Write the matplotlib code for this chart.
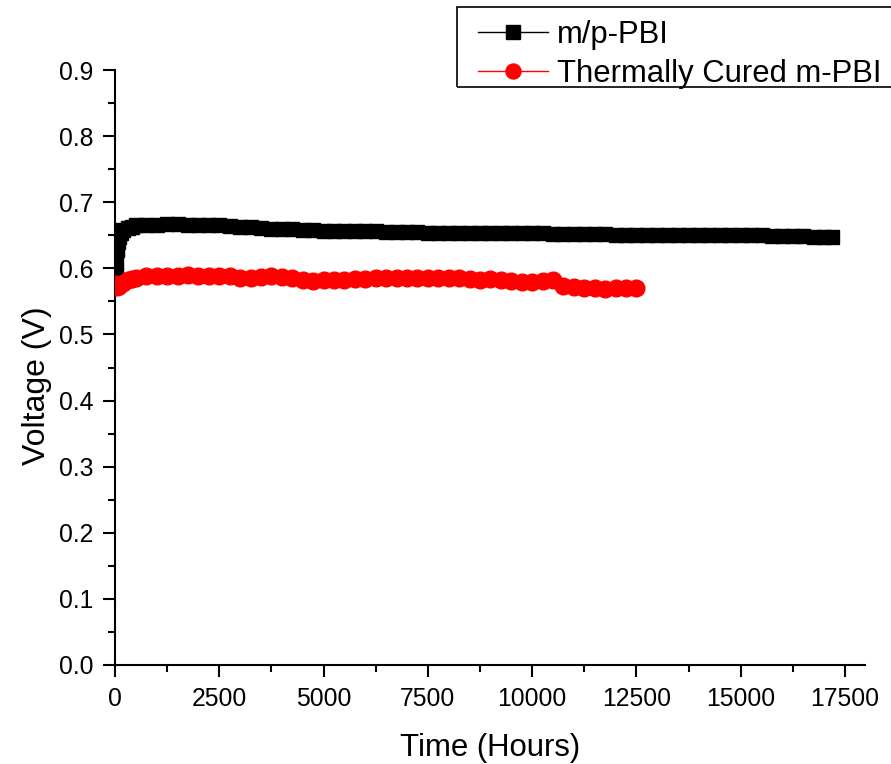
import matplotlib
matplotlib.use("Agg")
import matplotlib.pyplot as plt
from matplotlib.ticker import MultipleLocator
from matplotlib.patches import Rectangle

plt.rcParams['font.family'] = ['Liberation Sans', 'DejaVu Sans']

# ---------------- data ----------------
t_black = [0, 15, 30, 50, 75, 100, 150, 200, 300, 400, 500,
           750, 1000, 1250, 1500, 1750, 2000, 2250, 2500, 2750, 3000,
           3250, 3500, 3750, 4000, 4250, 4500, 4750, 5000, 5250, 5500,
           5750, 6000, 6250, 6500, 6750, 7000, 7250, 7500, 7750, 8000,
           8250, 8500, 8750, 9000, 9250, 9500, 9750, 10000, 10250, 10500,
           10750, 11000, 11250, 11500, 11750, 12000, 12250, 12500, 12750, 13000,
           13250, 13500, 13750, 14000, 14250, 14500, 14750, 15000, 15250, 15500,
           15750, 16000, 16250, 16500, 16750, 17000, 17200]
v_black = [0.572, 0.590, 0.610, 0.628, 0.640, 0.647, 0.654, 0.658, 0.661, 0.663, 0.665,
           0.666, 0.666, 0.667, 0.667, 0.666, 0.666, 0.665, 0.665, 0.664, 0.663,
           0.662, 0.661, 0.660, 0.659, 0.659, 0.658, 0.658, 0.657, 0.657, 0.657,
           0.656, 0.656, 0.656, 0.655, 0.655, 0.655, 0.655, 0.654, 0.654, 0.654,
           0.654, 0.654, 0.653, 0.653, 0.653, 0.653, 0.653, 0.653, 0.653, 0.652,
           0.652, 0.652, 0.652, 0.652, 0.652, 0.651, 0.651, 0.651, 0.651, 0.651,
           0.651, 0.650, 0.650, 0.650, 0.650, 0.650, 0.650, 0.650, 0.650, 0.651,
           0.649, 0.649, 0.649, 0.649, 0.648, 0.648, 0.648]

t_red = [0, 50, 100, 200, 300, 400, 500, 750, 1000, 1250, 1500, 1750, 2000,
         2250, 2500, 2750, 3000, 3250, 3500, 3750, 4000, 4250, 4500, 4750, 5000,
         5250, 5500, 5750, 6000, 6250, 6500, 6750, 7000, 7250, 7500, 7750, 8000,
         8250, 8500, 8750, 9000, 9250, 9500, 9750, 10000, 10250, 10500, 10750,
         11000, 11250, 11500, 11750, 12000, 12250, 12500]
v_red = [0.576, 0.572, 0.573, 0.578, 0.582, 0.584, 0.586, 0.588, 0.589, 0.589, 0.589, 0.590, 0.589,
         0.588, 0.589, 0.588, 0.586, 0.586, 0.587, 0.588, 0.587, 0.586, 0.583, 0.581, 0.582,
         0.583, 0.583, 0.584, 0.584, 0.586, 0.585, 0.585, 0.585, 0.586, 0.586, 0.585, 0.585,
         0.585, 0.584, 0.583, 0.584, 0.583, 0.581, 0.580, 0.579, 0.581, 0.582, 0.573,
         0.572, 0.571, 0.570, 0.569, 0.570, 0.570, 0.570]

series_labels = ["m/p-PBI", "Thermally Cured m-PBI"]
x_label = "Time (Hours)"
y_label = "Voltage (V)"

# ---------------- figure ----------------
W, H = 891, 764
fig = plt.figure(figsize=(W / 100, H / 100), dpi=100)
ax = fig.add_axes([115 / W, (H - 665) / H, (865 - 115) / W, (665 - 70) / H])

ax.plot(t_black, v_black, color='black', lw=1, marker='s', markersize=10.5,
        label=series_labels[0], zorder=3)
ax.plot(t_red, v_red, color='red', lw=1, marker='o', markersize=12,
        label=series_labels[1], zorder=3)

ax.set_xlim(0, 17500 * 750 / 730)
ax.set_ylim(0, 0.9)
ax.xaxis.set_major_locator(MultipleLocator(2500))
ax.xaxis.set_minor_locator(MultipleLocator(1250))
ax.yaxis.set_minor_locator(MultipleLocator(0.05))
ax.set_yticks([i / 10 for i in range(10)])
ax.set_yticklabels([f"{i / 10:.1f}" for i in range(10)])

for s in ['top', 'right']:
    ax.spines[s].set_visible(False)
for s in ['left', 'bottom']:
    ax.spines[s].set_linewidth(1.5)

ax.tick_params(which='major', direction='out', length=8.6, width=1.5,
               labelsize=17.8, pad=7)
ax.tick_params(which='minor', direction='out', length=5, width=1.5)

ax.set_xlabel(x_label, fontsize=22.4, labelpad=16)
ax.set_ylabel(y_label, fontsize=23)
ax.yaxis.set_label_coords(-0.084, 0.47)

leg = ax.legend(loc='upper left', bbox_to_anchor=(478 / W, 1 - 20 / H),
                bbox_transform=fig.transFigure, fontsize=22.3, frameon=False,
                handlelength=2.25, handletextpad=0.31, borderpad=0,
                labelspacing=0.3, borderaxespad=0, markerscale=0.9)
fig.patches.append(Rectangle((457 / W, 1 - 87 / H), (W + 10 - 457) / W, 80 / H,
                             transform=fig.transFigure, fill=False,
                             edgecolor='black', linewidth=1.2, clip_on=False))

fig.savefig("out.png", dpi=100)
